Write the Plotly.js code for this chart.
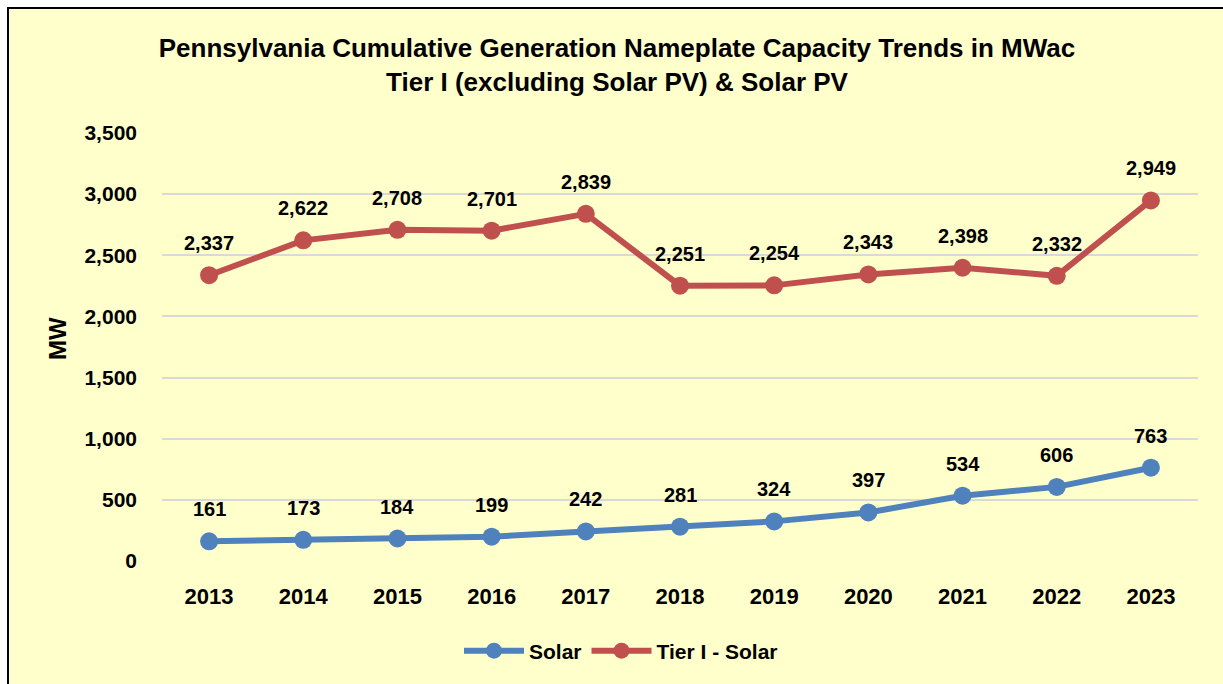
<!DOCTYPE html>
<html>
<head>
<meta charset="utf-8">
<script src="https://cdn.plot.ly/plotly-3.0.1.min.js"></script>
<style>html,body{margin:0;padding:0;background:#fff;}#chart{width:1223px;height:684px;}</style>
</head>
<body>
<div id="chart"></div>
<script>
const years = ['2013','2014','2015','2016','2017','2018','2019','2020','2021','2022','2023'];
const solar = [161,173,184,199,242,281,324,397,534,606,763];
const tierIminusSolar = [2337,2622,2708,2701,2839,2251,2254,2343,2398,2332,2949];
const seriesNames = ['Solar','Tier I - Solar'];
const yTicks = [0,500,1000,1500,2000,2500,3000,3500];

const FONT = '"Liberation Sans", Arial, sans-serif';
const BLUE = '#4F81BD', RED = '#C0504D';

function fmt(v){ return v.toLocaleString('en-US'); }

const traces = [
  {x: years, y: solar, name: seriesNames[0], type: 'scatter', mode: 'lines+markers',
   line: {color: BLUE, width: 6}, marker: {color: BLUE, size: 18}},
  {x: years, y: tierIminusSolar, name: seriesNames[1], type: 'scatter', mode: 'lines+markers',
   line: {color: RED, width: 6}, marker: {color: RED, size: 18}}
];

const annotations = [];
[solar, tierIminusSolar].forEach(arr => {
  arr.forEach((v,i) => annotations.push({
    x: i, y: v, xref: 'x', yref: 'y', text: '<b>' + fmt(v) + '</b>',
    showarrow: false, yshift: 32, font: {family: FONT, size: 20, color: '#000'}
  }));
});
annotations.push({
  text: '<b>MW</b>', textangle: -90, xref: 'paper', yref: 'paper',
  x: (57-162)/1036, y: (561-339)/428, xanchor: 'center', yanchor: 'middle', showarrow: false,
  font: {family: FONT, size: 24, color: '#000'}
});

const layout = {
  width: 1223, height: 684,
  margin: {l: 162, r: 25, t: 133, b: 123},
  paper_bgcolor: '#ffffff',
  plot_bgcolor: 'rgba(0,0,0,0)',
  title: {
    text: '<b>Pennsylvania Cumulative Generation Nameplate Capacity Trends in MWac<br>Tier I (excluding Solar PV) &amp; Solar PV</b>',
    font: {family: FONT, size: 26, color: '#000'},
    x: (617-162)/1036, xref: 'paper', xanchor: 'center', y: 1 - 57/684, yanchor: 'middle'
  },
  xaxis: {
    type: 'category', range: [-0.5, 10.5], showgrid: false, zeroline: false, showline: false, ticks: '',
    tickfont: {family: FONT, size: 22, color: '#000', weight: 'bold'}, ticklabelstandoff: 20
  },
  yaxis: {
    range: [0, 3500], tickvals: yTicks, ticktext: yTicks.map(fmt),
    showgrid: true, gridcolor: '#D9D9D9', gridwidth: 2, zeroline: false, showline: false, ticks: '',
    tickfont: {family: FONT, size: 21, color: '#000', weight: 'bold'}, ticklabelstandoff: 24
  },
  showlegend: true,
  legend: {
    orientation: 'h', x: (621-162)/1036, xanchor: 'center', y: (561-651)/428, yanchor: 'middle',
    font: {family: FONT, size: 21, color: '#000', weight: 'bold'}, bgcolor: 'rgba(0,0,0,0)', itemwidth: 60
  },
  shapes: [{
    type: 'rect', xref: 'paper', yref: 'paper', layer: 'below',
    x0: (8-162)/1036, x1: (1240-162)/1036, y0: (561-700)/428, y1: (561-8)/428,
    fillcolor: '#FFFFCC', line: {color: '#000', width: 2}
  }],
  annotations: annotations
};

Plotly.newPlot('chart', traces, layout, {displayModeBar: false, staticPlot: true});
</script>
</body>
</html>
